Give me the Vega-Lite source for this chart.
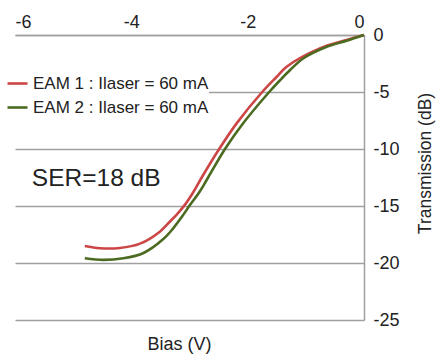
{
  "$schema": "https://vega.github.io/schema/vega-lite/v6.json",
  "width": 349,
  "height": 285,
  "autosize": {"type": "none"},
  "padding": {"left": 15, "top": 35, "right": 72, "bottom": 34},
  "background": "white",
  "config": {
    "view": {"stroke": null},
    "font": "Liberation Sans",
    "axis": {"labelColor": "#222222", "titleColor": "#222222", "labelFont": "Liberation Sans", "titleFont": "Liberation Sans"},
    "legend": {"labelFont": "Liberation Sans"}
  },
  "datasets": {
    "curves": [
      {"series": "EAM 1 : Ilaser = 60 mA", "bias": -4.8, "trans": -18.51},
      {"series": "EAM 1 : Ilaser = 60 mA", "bias": -4.54, "trans": -18.7},
      {"series": "EAM 1 : Ilaser = 60 mA", "bias": -4.2, "trans": -18.68},
      {"series": "EAM 1 : Ilaser = 60 mA", "bias": -3.85, "trans": -18.3},
      {"series": "EAM 1 : Ilaser = 60 mA", "bias": -3.51, "trans": -17.25},
      {"series": "EAM 1 : Ilaser = 60 mA", "bias": -3.34, "trans": -16.38},
      {"series": "EAM 1 : Ilaser = 60 mA", "bias": -3.22, "trans": -15.75},
      {"series": "EAM 1 : Ilaser = 60 mA", "bias": -3.08, "trans": -14.9},
      {"series": "EAM 1 : Ilaser = 60 mA", "bias": -2.93, "trans": -13.75},
      {"series": "EAM 1 : Ilaser = 60 mA", "bias": -2.79, "trans": -12.5},
      {"series": "EAM 1 : Ilaser = 60 mA", "bias": -2.49, "trans": -10.0},
      {"series": "EAM 1 : Ilaser = 60 mA", "bias": -2.19, "trans": -7.75},
      {"series": "EAM 1 : Ilaser = 60 mA", "bias": -1.75, "trans": -5.0},
      {"series": "EAM 1 : Ilaser = 60 mA", "bias": -1.5, "trans": -3.66},
      {"series": "EAM 1 : Ilaser = 60 mA", "bias": -1.33, "trans": -2.78},
      {"series": "EAM 1 : Ilaser = 60 mA", "bias": -0.76, "trans": -1.17},
      {"series": "EAM 1 : Ilaser = 60 mA", "bias": -0.3, "trans": -0.44},
      {"series": "EAM 1 : Ilaser = 60 mA", "bias": 0, "trans": 0},
      {"series": "EAM 2 : Ilaser = 60 mA", "bias": -4.8, "trans": -19.59},
      {"series": "EAM 2 : Ilaser = 60 mA", "bias": -4.48, "trans": -19.73},
      {"series": "EAM 2 : Ilaser = 60 mA", "bias": -4.14, "trans": -19.59},
      {"series": "EAM 2 : Ilaser = 60 mA", "bias": -3.79, "trans": -19.12},
      {"series": "EAM 2 : Ilaser = 60 mA", "bias": -3.45, "trans": -17.9},
      {"series": "EAM 2 : Ilaser = 60 mA", "bias": -3.28, "trans": -16.96},
      {"series": "EAM 2 : Ilaser = 60 mA", "bias": -3.13, "trans": -15.94},
      {"series": "EAM 2 : Ilaser = 60 mA", "bias": -2.99, "trans": -14.9},
      {"series": "EAM 2 : Ilaser = 60 mA", "bias": -2.82, "trans": -13.7},
      {"series": "EAM 2 : Ilaser = 60 mA", "bias": -2.68, "trans": -12.5},
      {"series": "EAM 2 : Ilaser = 60 mA", "bias": -2.39, "trans": -10.0},
      {"series": "EAM 2 : Ilaser = 60 mA", "bias": -2.1, "trans": -7.89},
      {"series": "EAM 2 : Ilaser = 60 mA", "bias": -1.63, "trans": -5.0},
      {"series": "EAM 2 : Ilaser = 60 mA", "bias": -1.44, "trans": -3.95},
      {"series": "EAM 2 : Ilaser = 60 mA", "bias": -1.27, "trans": -3.07},
      {"series": "EAM 2 : Ilaser = 60 mA", "bias": -1.04, "trans": -2.04},
      {"series": "EAM 2 : Ilaser = 60 mA", "bias": -0.64, "trans": -1.03},
      {"series": "EAM 2 : Ilaser = 60 mA", "bias": -0.3, "trans": -0.5},
      {"series": "EAM 2 : Ilaser = 60 mA", "bias": 0, "trans": 0}
    ],
    "notes": [
      {"bias": -5.71, "trans": -12.63, "label": "SER=18 dB"}
    ]
  },
  "layer": [
    {
      "data": {"name": "curves"},
      "mark": {"type": "line", "interpolate": "catmull-rom", "strokeWidth": 2.6},
      "encoding": {
        "x": {
          "field": "bias", "type": "quantitative",
          "scale": {"domain": [-6, 0], "nice": false},
          "axis": {"orient": "top", "values": [-6, -4, -2, 0], "title": null, "grid": false, "domain": true, "domainColor": "#a0a0a0", "domainWidth": 1.5, "ticks": false, "labelFontSize": 18, "labelPadding": 4, "labelExpr": "'' + datum.value"}
        },
        "y": {
          "field": "trans", "type": "quantitative",
          "scale": {"domain": [-25, 0], "nice": false},
          "axis": {"orient": "right", "values": [0, -5, -10, -15, -20, -25], "grid": true, "gridColor": "#a0a0a0", "gridWidth": 1.5, "domain": true, "domainColor": "#a0a0a0", "domainWidth": 1.5, "ticks": false, "labelFontSize": 18, "labelPadding": 9, "labelExpr": "'' + datum.value", "title": "Transmission (dB)", "titleAngle": 270, "titleFontSize": 17.5, "titleFontWeight": "normal", "titleX": 61, "titleY": 128, "titleAlign": "center", "titleBaseline": "middle"}
        },
        "color": {
          "field": "series", "type": "nominal",
          "scale": {"domain": ["EAM 1 : Ilaser = 60 mA", "EAM 2 : Ilaser = 60 mA"], "range": ["#cc4646", "#4b6b20"]},
          "legend": {"title": null, "orient": "none", "legendX": -9, "legendY": 37, "padding": 0, "fillColor": "white", "symbolType": "stroke", "symbolSize": 400, "symbolStrokeWidth": 2.6, "labelFontSize": 17, "labelLimit": 0, "labelColor": "#222222", "labelOffset": 4, "rowPadding": 4}
        }
      }
    },
    {
      "data": {"name": "notes"},
      "mark": {"type": "text", "align": "left", "baseline": "middle", "fontSize": 24.5, "color": "#222222", "font": "Liberation Sans"},
      "encoding": {
        "x": {
          "field": "bias", "type": "quantitative",
          "axis": {"orient": "bottom", "labels": false, "ticks": false, "domain": false, "grid": false, "title": "Bias (V)", "titleFontSize": 18, "titleFontWeight": "normal", "titleX": 164, "titleY": 24, "titleAlign": "center", "titleBaseline": "middle"}
        },
        "y": {"field": "trans", "type": "quantitative"},
        "text": {"field": "label"}
      }
    }
  ],
  "resolve": {"axis": {"x": "independent"}}
}
